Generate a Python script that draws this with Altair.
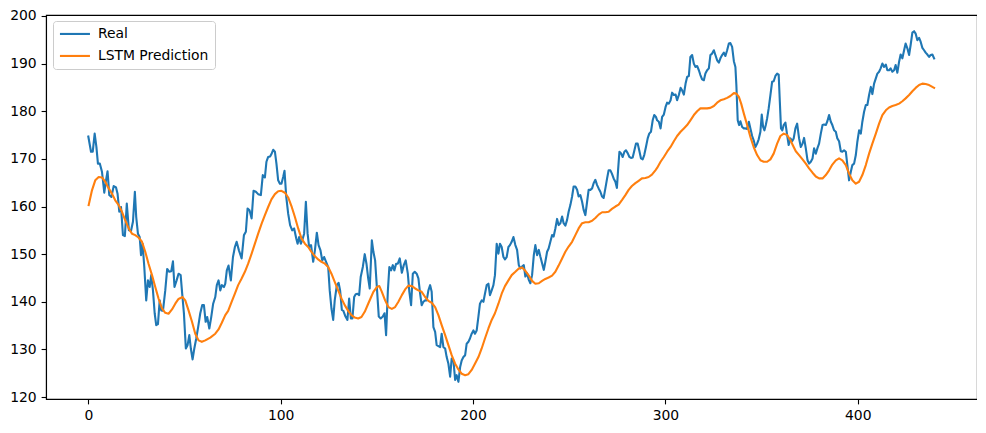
import altair as alt
import pandas as pd

# ---- Real series (index, value) ----
real_x = [0, 1.4, 2.3, 3.3, 4.2, 5, 6, 7.1, 8.3, 9.2, 10, 10.9, 12, 13.2, 14.4, 15.2, 16.1, 17, 18, 19,
          20, 21.1, 22.2, 23.2, 24.2, 24.9, 25.8, 26.7, 27.4, 28.2, 29.1, 30.1, 31, 31.9, 32.7, 33.6, 34.5, 35.3, 36.2, 37.1,
          37.9, 38.8, 40, 41, 42.1, 43.1, 44, 44.8, 45.9, 46.9, 48, 48.8, 49.7, 50.7, 51.6, 52.5, 53.3, 54.2, 55.1, 56.1,
          57.1, 58.2, 59.2, 60.1, 61, 61.8, 62.9, 63.9, 64.9, 66, 66.8, 67.7, 68.6, 69.4, 70.5, 71.2, 72, 72.9,
          74.1, 75.2, 76.2, 77.1, 78.3, 79.7, 80.9, 81.9, 82.8, 83.8, 84.9, 85.9, 87.1, 88.3, 89.7, 90.7, 91.8, 92.6, 93.5, 94.5,
          95.4, 96.1, 97, 97.8, 98.7, 99.6, 100.4, 101.3, 102, 102.9, 103.9, 104.9, 106, 107, 108.1, 108.8, 109.6, 110.5, 111.2, 112.2,
          113.1, 114, 114.8, 115.8, 116.9, 117.8, 118.8, 119.7, 120.7, 121.6, 122.6, 123.6, 124.7, 125.5, 126.4, 127.3, 128.1, 129.2, 130.1, 130.9,
          131.8, 132.6, 133.7, 134.7, 135.6, 136.5, 137.3, 138.2, 139, 139.9, 140.8, 141.6, 142.7, 143.7, 144.6, 145.5, 146.3,
          147.4, 148.2, 149.1, 150, 151, 152, 153.1, 154, 154.8, 155.7, 156.5, 157.4, 158.3, 159.1, 160, 160.9, 161.9, 163, 164, 165,
          166.1, 166.9, 167.8, 168.7, 169.7, 170.7, 171.6, 172.5, 173.3, 174.2, 175.1, 175.9, 176.8, 177.7, 178.5, 179.4, 180.3, 181.1, 182, 182.9,
          183.7, 184.6, 185.5, 186.3, 187.2, 188.1, 188.9, 189.8, 190.7, 191.5, 192.4, 193.3, 194.1, 195, 195.9, 196.7, 197.6, 198.4, 199.3, 200.2,
          201, 201.9, 202.8, 203.6, 204.5, 205.4, 206.2, 207.1, 208, 208.8, 209.7, 210.6, 211.4, 212.3, 213.2, 214, 214.9, 215.8, 216.6, 217.5,
          218.4, 219.2, 220.1, 221,
          222, 222.9, 223.8, 224.6, 225.5, 226.4, 227.2, 228.1, 229, 229.8, 230.7, 231.6, 232.4, 233.3, 234.2, 235, 235.9, 236.8, 237.6, 238.5,
          239.3, 240.2, 241.1, 241.9, 242.8, 243.7, 244.5, 245.4, 246.3, 247.1, 248, 248.9, 249.7, 250.6, 251.5, 252.3, 253.2, 254.1, 254.9, 255.8,
          256.7, 257.5, 258.4, 259.3, 260.1, 261, 261.9, 262.7, 263.6, 264.5, 265.3, 266.2, 267.1, 267.9, 268.8, 269.7, 270.5, 271.4, 272.2, 273.1,
          274, 274.8, 275.4, 276.1, 276.9, 277.8, 278.7, 279.5, 280.4, 281.3, 282.1, 283, 283.9, 284.7, 285.6, 286.4, 287.3, 288.2, 289, 289.9,
          290.8, 291.6, 292.5, 293.4, 294.2, 295.1,
          295.7, 296.6, 297.5, 298.3, 299.2, 300.1, 300.9, 301.8, 302.7, 303.5, 304.4, 305.3, 306.1, 307, 307.9, 308.7, 309.6, 310.5, 311.3, 312.2,
          313, 313.9, 314.8, 315.6, 316.5, 317.4, 318.2, 319.1, 320, 320.8, 321.7, 322.6, 323.4, 324.3, 325.2, 326, 326.9, 327.8, 328.6, 329.5,
          330.4, 331.2, 332.1, 333, 333.8, 334.7, 335.6, 336.4, 336.9, 337.6, 338.3, 339, 339.9, 340.8, 341.6, 342.5, 343.4, 344.2, 345.1, 345.9,
          346.8, 347.7, 348.5, 349.4, 350.1, 350.8, 351.5, 352.2, 352.9, 353.7, 354.6, 355.5, 356.3, 357.2, 358.1, 358.9, 359.5, 360.1, 360.8, 361.5,
          362.4, 363.3, 364.1, 365, 365.9, 366.7, 367.6, 368.5,
          369.5, 370.4, 371.3, 372.1, 373, 373.9, 374.7, 375.6, 376.5, 377.3, 378.2, 379.1, 379.9, 380.8, 381.7, 382.5, 383.4, 384.2, 385.1, 386,
          386.8, 387.7, 388.6, 389.4, 390.3, 391.2, 392, 392.9, 393.8, 394.6, 395.5, 396.4, 397.2, 398.1, 399, 399.8, 400.7, 401.6, 402.4, 403.3,
          404.2, 405, 405.9, 406.8, 407.6, 408.5, 409.4, 410.2, 411.1, 411.9, 412.8, 413.7, 414.6, 415.4, 416.3, 417.1, 418, 418.9, 419.7, 420.6,
          421.5, 422.3, 423.2, 424.1, 424.9, 425.8, 426.7, 427.5, 428.4, 429.3, 430.1, 431, 431.9, 432.7, 433.6, 434.5, 435.3, 436.2, 437.1, 437.9,
          438.8, 439.7]
real_y = [174.7, 171.5, 171.5, 175.3, 172.5, 169, 169, 167.3, 162.9, 165.5, 167.4, 162.4, 162, 164.3, 164, 162.7, 158.9, 159.9, 154, 153.8,
          160.6, 155, 154.9, 156.8, 163.1, 157.8, 154.3, 153.6, 149.8, 152.2, 147.3, 140.3, 144.5, 143.1, 145.6, 142.4, 137.6, 135.1, 135.3, 140.3,
          138.2, 138.1, 142.4, 146.9, 146.3, 146.4, 148.5, 143.1, 144.5, 145.9, 145.6, 141.7, 137.6, 130.2, 130.9, 133, 130.2, 127.9, 130.2, 132.3,
          134.7, 137.6, 139.3, 139.3, 135.8, 136.8, 134.4, 136.8, 139.6, 141, 143.5, 144.5, 142.4, 143.5, 143.1, 143.8, 146.6, 147.6,
          144.5, 149.4, 151.5, 152.6, 150.8, 149.1, 154, 154.7, 159.6, 159.2, 157.5, 163.3, 163.1, 162.6, 162.4, 166.6, 166.1, 169.4, 170.4, 170.5,
          171.2, 171.9, 171.5, 169, 165.5, 164.8, 164.8, 166.2, 167.5, 162, 158.5, 156.1, 155, 155.4, 153.3, 152.2, 153.6, 152.2, 152.9, 154.3,
          161, 154.3, 151.5, 151.9, 148.4, 150.8, 154.5, 151.9, 150.8, 148.7, 149.4, 148.4, 147.3, 142.4, 138.6, 136.2, 140.3, 143.5, 144, 142.4,
          138.3, 138.1, 136.9, 136.2, 140.7, 136.5, 136.5, 141, 141.6, 141.7, 141.4, 145.2, 147.3, 150, 148, 144.9, 142.8,
          152.9, 150.5, 148.7, 143.1, 136.9, 136.5, 136.9, 137.6, 133, 142.1, 147.3, 146.6, 147.7, 146.6, 148, 148, 149.1, 146.1, 147.7, 148.7,
          145.9, 142.1, 139.3, 145.9, 146.3, 145.9, 144.9, 141.7, 139.3, 140, 140.3, 140.3, 142.4, 143.5, 142.1, 134.7, 133.7, 130.9, 130.7, 130.5,
          133.3, 130.5, 130.2, 128.4, 127, 124.3, 128.1, 127.7, 123.6, 124.6, 123.2, 126.3, 127.7, 128.4, 128.8, 131.2, 131.6, 132.3, 133.3, 134,
          133.3, 134, 136.9, 139.6, 140.3, 140, 141.7, 143.5, 143.8, 141.4, 142.4, 143.5, 145.6, 152.2, 150.1, 152.2, 151.5, 149.4, 148.9, 149.4,
          151.5, 151.9, 152.6, 153.6,
          151.9, 150.9, 147.7, 147, 147.4, 147.7, 145.3, 146, 144.6, 143.9, 145.6, 149.8, 151.9, 149.8, 150.9, 149.5, 148.1, 146.7, 148.4, 150.5,
          151.2, 152.6, 154, 153.7, 155.4, 157.4, 156.1, 156.5, 157.9, 156.5, 156, 157.2, 158.9, 160.3, 162.1, 164.2, 164.2, 163.5, 162.1, 162.4,
          161, 159.3, 158.2, 161, 163.5, 163.5, 163.8, 164.9, 165.6, 164.5, 163.8, 163.1, 162.1, 161.8, 163.8, 165.9, 167.6, 167.6, 166.9, 165.9,
          165.2, 163.9, 167.6, 171.5, 171.2, 170.4, 171.5, 171.8, 171.2, 170.4, 170.2, 170.3, 171.8, 173.2, 173.2, 171.8, 170.1, 169.9, 170.8, 172.5,
          174.3, 175.3, 175.7, 178.1, 179.2, 178.8,
          178.1, 177.8, 176.4, 178.8, 179.3, 180.9, 181.8, 181.6, 182.3, 183.9, 183.4, 183.5, 182.3, 183.4, 184.9, 184.4, 183.5, 185.8, 187.2, 187.4,
          191.4, 191.8, 190, 189.3, 189.5, 188.6, 187.6, 186.7, 186.5, 187.9, 188.6, 189, 191.8, 192.1, 192.8, 191.8, 190.7, 190.2, 191.1, 191.8,
          192.3, 191.6, 192.8, 194.2, 194.3, 193.5, 190.5, 189.3, 185.5, 178.1, 177.1, 177.9, 176.7, 176.4, 176.4, 176.3, 177.8, 176.4, 174.8, 173.9,
          172.5, 173.2, 174.1, 175.7, 179.3, 176.7, 176, 177.1, 178.5, 180.6, 183.4, 186.2, 186.3, 187.4, 187.9, 187.7, 182, 176.4, 176, 177.1,
          177.6, 175, 172.9, 174.3, 173.7, 174.3, 176.4, 177.4,
          174.3, 172.5, 173.2, 174.4, 172.2, 169.7, 169, 169.4, 170.1, 172.2, 171.1, 172.3, 173.2, 175.3, 177.1, 177.2, 177.1, 177.9, 179.2, 177.8,
          177.1, 176, 175.7, 174.3, 173.7, 171.6, 171.5, 171.8, 171.5, 168.7, 165.5, 167.3, 168.7, 169, 170.8, 173.6, 176, 175.3, 177.8, 179.9,
          181.3, 181.3, 183.4, 185.1, 183.6, 185.8, 186.9, 187.9, 188.3, 189, 190, 189.3, 189.8, 188.6, 188.6, 189, 188.3, 188.6, 189.7, 188.1,
          190.4, 191.9, 191.1, 192.8, 194.2, 193.2, 191.8, 193.9, 196.5, 196.8, 196.3, 194.9, 195.4, 194.6, 193.3, 192.8, 192.3, 191.9, 191.4, 191.8,
          191.9, 191.1]

# ---- LSTM prediction series (index, value) ----
pred_x = [0.2, 1.9, 3.6, 5.4, 7.1, 8.8, 10.6, 12.3, 14, 15.8, 17.5, 19.2, 21, 22.7, 24.4, 26.1, 27.9, 29.6, 31.3, 33.1,
          34.8, 36.5, 38.3, 40, 41.7, 43.5, 45.2, 46.9, 49, 50.4, 52.1, 53.9, 55.6, 57.3, 59, 60.8, 63.4, 66, 67.7, 69.4,
          71.2, 72.7, 74.5, 76.2, 77.9, 79.7, 81.4, 83.1, 84.9, 86.6, 88.3, 90.1, 91.8, 93.5, 95.2, 97, 98.7, 100.4, 102.2, 103.9,
          105.6, 107.4, 109.1, 110.8, 112.6, 114.3, 116, 117.7, 119.5, 121.2, 123, 124.7, 126.4, 128.1, 129.9, 131.6, 133.3, 135.1, 136.8, 138.5,
          140.3, 142, 143.7, 145.5, 146.8, 148.2, 150, 151.3, 152.6, 154.3, 156, 157.8, 159.5, 161.2, 163, 164.7, 166.4, 168.2, 169.9, 171.6,
          173.3, 175.1, 176.8, 178.5, 180.3, 182, 183.7, 185.5, 187.2, 188.9, 190.7, 192.4, 194.1, 195.9, 197.6, 199.3, 201, 202.8, 204.5, 206.2,
          208, 209.7, 211.4, 213.2, 214.9, 216.6, 218.4, 220.1, 222, 223.8, 225.5, 227.2, 229, 230.7, 232.4, 234.2, 235.9, 237.6, 239.3, 241.1,
          242.8, 244.5, 246.3, 248, 249.7, 251.5, 253.2, 254.9, 256.7, 258.4, 260.1, 261.9, 263.6, 265.3, 267.1, 268.8, 270.5, 272.2, 274, 275.7,
          277.5, 279.2, 280.9, 282.6, 284.4, 286.1, 287.8, 289.6, 291.3, 293, 294.8, 295.7, 297.5, 299.2, 300.9, 302.7, 304.4, 306.1, 307.9, 309.6,
          311.3, 313, 314.8, 316.5, 318.2, 320, 321.7, 323.4, 325.2, 326.9, 328.6, 330.4, 332.1, 333.8, 335.6, 336.9, 338.2, 339.4, 340.8, 342.5,
          344.2, 345.9, 347.7, 349.4, 351.1, 352.9, 354.6, 356.3, 358.1, 359.8, 361.5, 363.3, 365, 366.7, 367.8, 369.5, 371.3, 373, 374.7, 376.5,
          378.2, 379.9, 381.7, 383.4, 385.1, 386.8, 388.6, 390.3, 392, 393.8, 395.5, 397.2, 399, 400.7, 402.4, 404.2, 405.9, 407.6, 409.4, 411.1,
          412.8, 414.6, 416.3, 418, 419.7, 421.5, 423.2, 424.9, 426.7, 428.4, 430.1, 431.9, 433.6, 435.3, 437.1, 438.8, 439.7]
pred_y = [160.3, 163.4, 165.5, 166.2, 166.1, 165.2, 163.8, 162.7, 161.3, 160.3, 158.9, 157.1, 155.4, 154.3, 154, 153.5, 152.6, 150.5, 148, 145.6,
          143.1, 140.7, 138.6, 137.7, 137.5, 138.4, 139.6, 140.6, 141, 140.3, 138.2, 135.8, 133.3, 131.9, 131.6, 131.9, 132.5, 133.3, 134.2, 135.6,
          137.2, 138.1, 140, 141.7, 143.5, 144.9, 146.3, 148, 150.1, 152.2, 154.3, 156.4, 158.2, 159.9, 161.5, 162.6, 163.2, 163.3, 162.9, 161.9,
          160.1, 157.8, 155.4, 153.3, 152.2, 151.5, 150.5, 149.6, 148.9, 148.4, 148, 147.3, 145.9, 144.2, 142.4, 140.7, 139.3, 138.1, 137.2, 136.7,
          136.5, 136.8, 137.9, 139.6, 140.8, 142.1, 143.1, 143.3, 142.1, 140.3, 138.9, 138.5, 138.9, 140, 141.4, 142.6, 143.4, 143.3, 142.8, 142.4,
          142.1, 141, 140.2, 139.8, 138.9, 137.2, 135.1, 133, 130.9, 128.8, 127, 125.8, 124.9, 124.6, 124.8, 125.7, 127, 128.4, 130.2, 132.3,
          134.4, 136.2, 137.6, 139.6, 141.7, 143.3, 144.5, 145.6, 146.3, 147, 147.2, 146.5, 145.5, 144.4, 143.8, 143.9, 144.4, 144.8, 145.1, 145.5,
          146.3, 147.6, 149.1, 150.5, 151.6, 152.6, 154, 155.4, 156.5, 156.7, 156.7, 157, 157.6, 158.3, 158.8, 158.8, 158.9, 159.5, 160, 160.4,
          161.4, 162.4, 163.5, 164.3, 164.9, 165.4, 165.9, 166, 166.2, 166.7, 167.6, 168.1, 169.4, 170.4, 171.5, 172.5, 173.7, 174.8, 175.7, 176.4,
          177.1, 178.1, 179.2, 180, 180.6, 180.6, 180.6, 180.7, 181.1, 181.8, 182.3, 182.5, 182.8, 183.2, 183.8, 183.7, 183, 181.6, 179.5, 177.1,
          174.6, 172.5, 170.8, 169.7, 169.4, 169.4, 169.9, 171.1, 173.2, 174.8, 175.3, 175, 173.9, 172.5, 171.6, 170.8, 169.9, 169, 168, 167.1,
          166.3, 165.9, 165.9, 166.6, 167.6, 168.8, 169.7, 170.1, 169.7, 168.7, 166.9, 165.5, 164.8, 165.2, 166.6, 168.7, 171.1, 173.2, 175.3, 177.4,
          179.2, 180.2, 180.8, 181.1, 181.3, 181.6, 182.1, 182.7, 183.4, 184.2, 184.9, 185.5, 185.8, 185.7, 185.5, 185.1, 184.9]

series_names = ["Real", "LSTM Prediction"]
series_colors = ["#1f77b4", "#ff7f0e"]
x_ticks = [0, 100, 200, 300, 400]
y_ticks = [120, 130, 140, 150, 160, 170, 180, 190, 200]

df = pd.concat([
    pd.DataFrame({"idx": real_x, "value": real_y, "series": series_names[0], "o": 0}),
    pd.DataFrame({"idx": pred_x, "value": pred_y, "series": series_names[1], "o": 1}),
])

FONT = "DejaVu Sans"

chart = alt.Chart(df).mark_line(strokeWidth=2.1, strokeJoin="round", strokeCap="square").encode(
    x=alt.X("idx:Q", scale=alt.Scale(domain=[-22, 462], nice=False, zero=False),
            axis=alt.Axis(values=x_ticks, title=None, format="d")),
    y=alt.Y("value:Q", scale=alt.Scale(domain=[119.6, 200.2], nice=False, zero=False),
            axis=alt.Axis(values=y_ticks, title=None, format="d")),
    color=alt.Color("series:N",
                    scale=alt.Scale(domain=series_names, range=series_colors),
                    legend=alt.Legend(title=None, orient="none", legendX=7, legendY=6,
                                      symbolType="M-1.2,0L4.8,0", symbolSize=100, symbolStrokeWidth=2.1,
                                      symbolOffset=0,
                                      labelFontSize=13.9, labelFont=FONT, labelColor="black",
                                      labelOffset=25, rowPadding=7,
                                      strokeColor="#cccccc", fillColor="white", cornerRadius=3,
                                      padding=6)),
    detail="series:N",
    order="o:Q",
).properties(
    width=931, height=384,
    autosize=alt.AutoSizeParams(type="none"),
    padding={"left": 38, "top": 7, "right": 0, "bottom": 30},
).configure_view(
    stroke="black", strokeWidth=1.1
).configure_axis(
    grid=False, domainColor="black", domainWidth=1.1, tickColor="black", tickWidth=1.1,
    tickSize=4.9, labelPadding=4.9, labelFontSize=13.9, labelFont=FONT, labelColor="black",
)

chart.save("out.html", embed_options={"renderer": "svg", "actions": False})
